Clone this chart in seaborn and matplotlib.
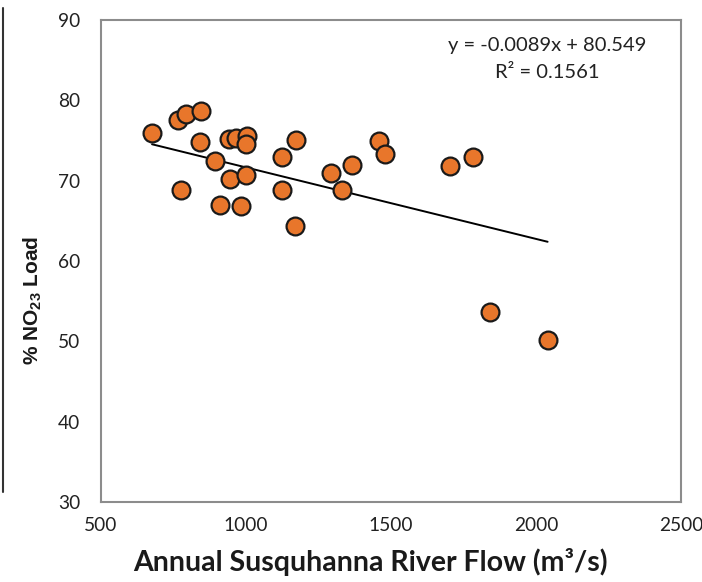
import matplotlib
matplotlib.use("Agg")
import matplotlib.pyplot as plt
import seaborn as sns
import numpy as np
import pandas as pd
from matplotlib.lines import Line2D

# Data
flow = [676, 765, 793, 845, 841, 776, 893, 910, 945, 941, 965, 1003, 1000,
        983, 1000, 1124, 1172, 1124, 1169, 1293, 1365, 1331, 1459, 1479,
        1703, 1783, 1841, 2040]
no23 = [75.9, 77.6, 78.3, 78.7, 74.8, 68.8, 72.4, 67.0, 70.2, 75.2, 75.3,
        75.5, 74.6, 66.8, 70.7, 73.0, 75.1, 68.8, 64.4, 70.9, 72.0, 68.8,
        75.0, 73.3, 71.8, 72.9, 53.6, 50.2]
slope = -0.0089
intercept = 80.549
r2 = 0.1561
xticks = [500, 1000, 1500, 2000, 2500]
yticks = [30, 40, 50, 60, 70, 80, 90]

sns.set_theme(style="white")
plt.rcParams["font.family"] = ["Lato", "DejaVu Sans"]
plt.rcParams["mathtext.fontset"] = "custom"
plt.rcParams["mathtext.rm"] = "Liberation Sans"
plt.rcParams["mathtext.bf"] = "Liberation Sans:bold"

df = pd.DataFrame({"flow": flow, "no23": no23})

fig = plt.figure(figsize=(7.02, 5.82), dpi=100)
ax = fig.add_axes([101/702, 1-502/582, 580/702, 482/582])

xl = np.array([min(flow), max(flow)])
line_df = pd.DataFrame({"x": xl, "y": slope * xl + intercept})
sns.lineplot(data=line_df, x="x", y="y", ax=ax, color="black", linewidth=1.4, zorder=2)

sns.scatterplot(data=df, x="flow", y="no23", ax=ax, s=165, color="#E8762B",
                edgecolor="#1a1a1a", linewidth=1.6, zorder=3)

ax.set_xlim(500, 2500)
ax.set_ylim(30, 90)
ax.set_xticks(xticks)
ax.set_yticks(yticks)
ax.tick_params(axis="both", direction="in", length=5, width=1.2, color="#8c8c8c",
               labelsize=13.8, labelcolor="#222222")
ax.tick_params(axis="y", pad=15)
ax.tick_params(axis="x", pad=11)
for s in ax.spines.values():
    s.set_color("#8c8c8c")
    s.set_linewidth(1.5)

ax.set_xlabel("Annual Susquhanna River Flow (m³/s)", fontsize=20.5, fontweight="bold",
              color="#1a1a1a")
ax.xaxis.set_label_coords((370-101)/580, -(548-502)/482)
ax.set_ylabel(r"% NO$_{\mathbf{23}}$ Load", fontsize=15, fontweight="bold",
              family="Liberation Sans", color="#1a1a1a")
ax.yaxis.set_label_coords(-(101-44)/580, (502-300)/482)

ax.text(547/702, 1-45/582, "y = -0.0089x + 80.549", transform=fig.transFigure,
        ha="center", va="center", fontsize=14.5, color="#222222")
ax.text(547/702, 1-72/582, f"R² = {r2}", transform=fig.transFigure,
        ha="center", va="center", fontsize=14.5, color="#222222")

fig.add_artist(Line2D([3/702, 3/702], [1-8/582, 1-492/582], transform=fig.transFigure,
                      color="#333333", linewidth=1.5))

fig.savefig("out.png", dpi=100)
